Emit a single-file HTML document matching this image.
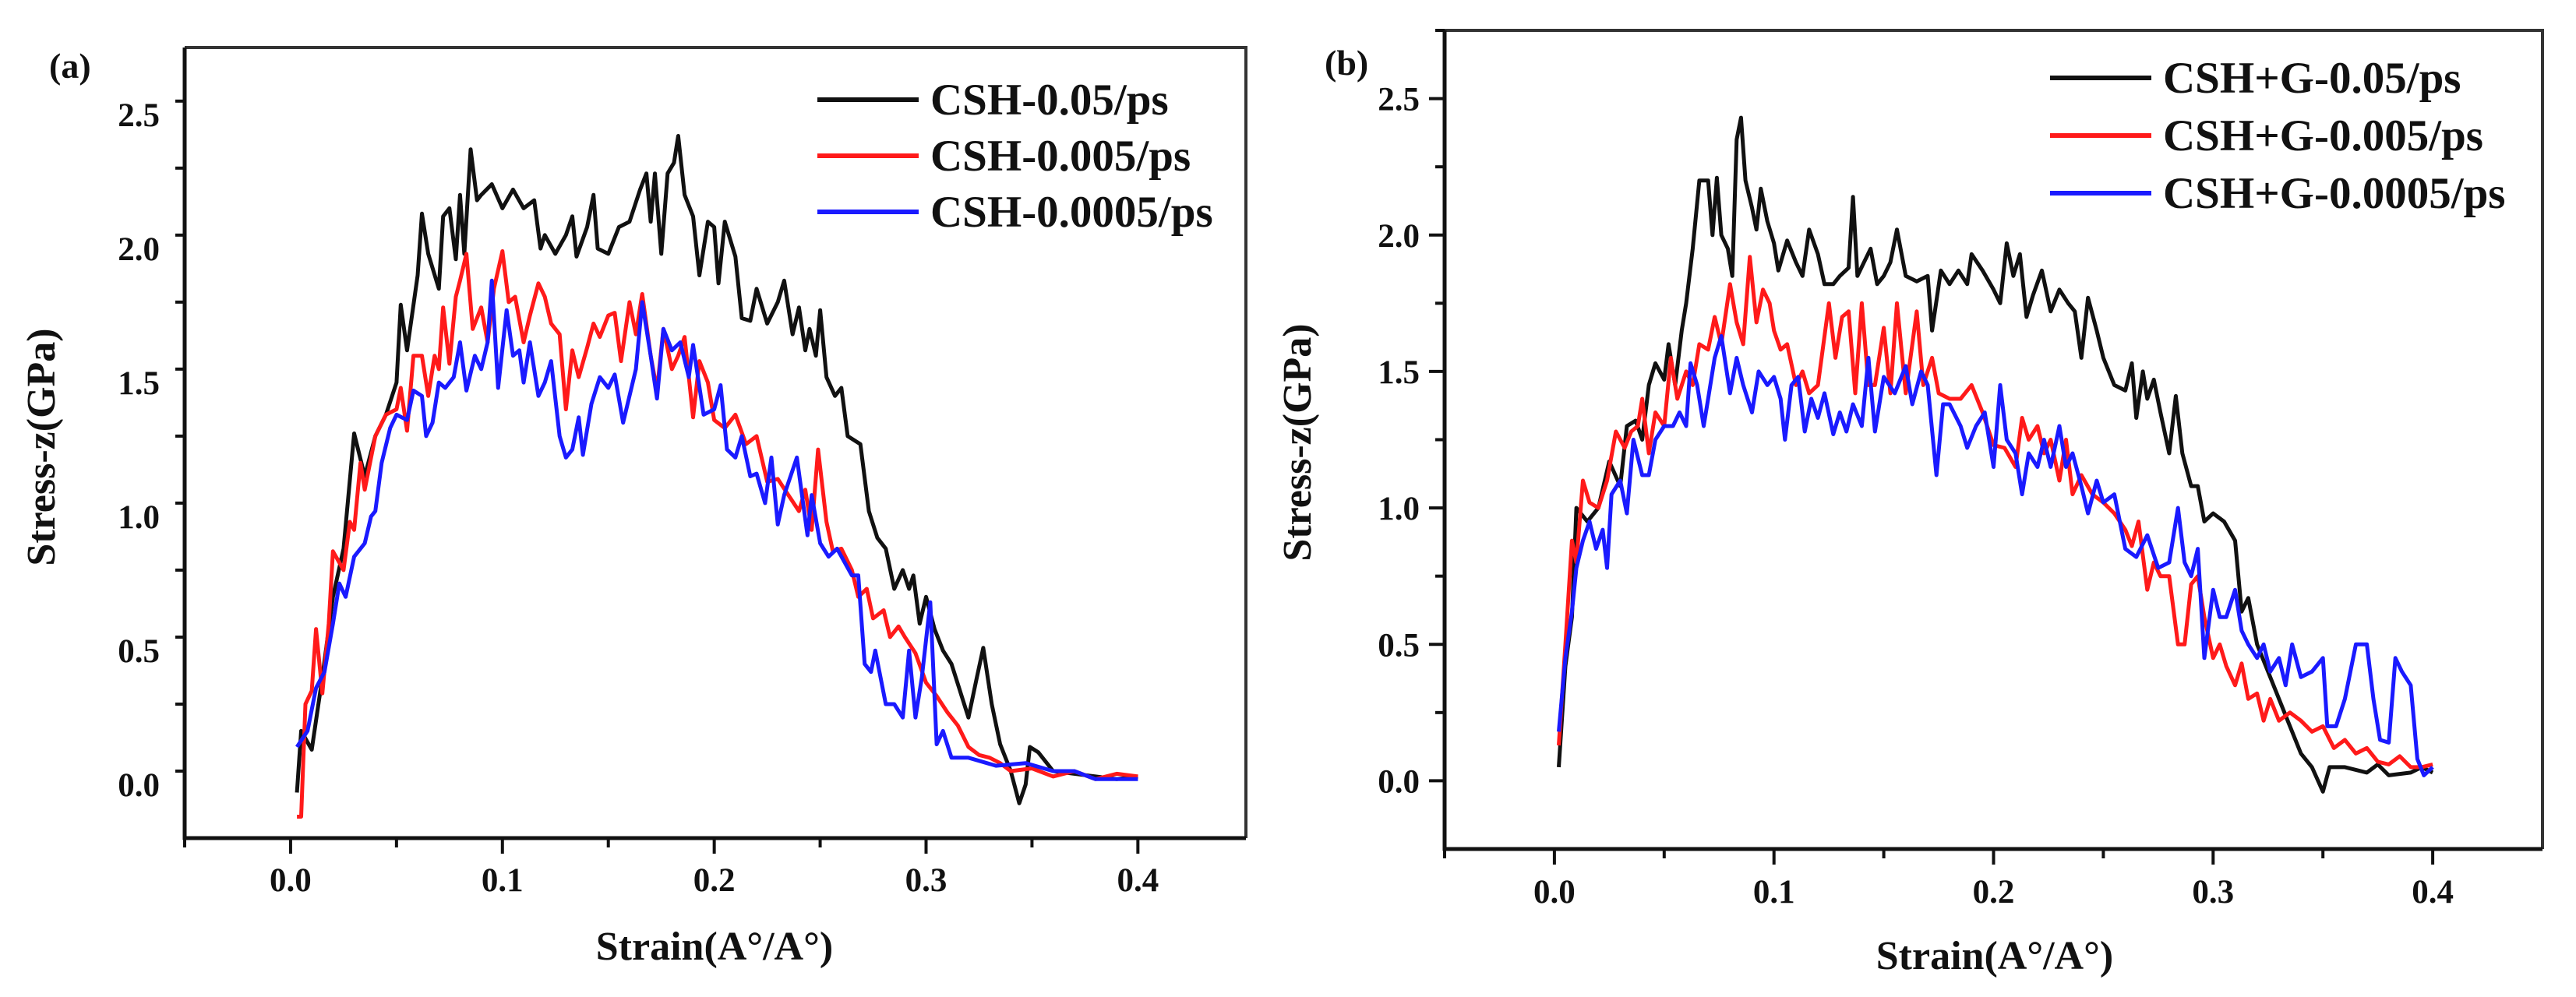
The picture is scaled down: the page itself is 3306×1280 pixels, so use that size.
<!DOCTYPE html>
<html><head><meta charset="utf-8"><style>
html,body{margin:0;padding:0;background:#fff;}
svg{display:block;font-family:"Liberation Serif",serif;font-weight:bold;}
</style></head><body>
<svg id="chart" xmlns="http://www.w3.org/2000/svg" width="3306" height="1280" viewBox="0 0 3306 1280"></svg>
<script>
// ---------- Panel (a) data ----------
const strainA_black = [0.003,0.005,0.01,0.015,0.02,0.025,0.03,0.035,0.04,0.045,0.05,0.052,0.055,0.06,0.062,0.065,0.07,0.072,0.075,0.078,0.08,0.082,0.085,0.088,0.09,0.095,0.1,0.105,0.11,0.115,0.118,0.12,0.125,0.13,0.133,0.135,0.14,0.143,0.145,0.15,0.155,0.16,0.165,0.168,0.17,0.172,0.175,0.178,0.181,0.183,0.186,0.19,0.193,0.197,0.2,0.202,0.205,0.21,0.213,0.217,0.22,0.225,0.23,0.233,0.237,0.24,0.243,0.245,0.248,0.25,0.253,0.257,0.26,0.263,0.269,0.273,0.277,0.281,0.285,0.289,0.292,0.294,0.297,0.3,0.304,0.308,0.312,0.316,0.32,0.324,0.327,0.331,0.335,0.34,0.344,0.347,0.349,0.353,0.36,0.37,0.38,0.39,0.4];
const stressA_black = [-0.03,0.2,0.13,0.4,0.7,0.88,1.31,1.15,1.3,1.38,1.5,1.79,1.62,1.9,2.13,1.98,1.85,2.12,2.15,1.96,2.2,1.98,2.37,2.18,2.2,2.24,2.15,2.22,2.15,2.18,2.0,2.05,1.98,2.05,2.12,1.97,2.08,2.2,2.0,1.98,2.08,2.1,2.22,2.28,2.1,2.28,1.98,2.28,2.32,2.42,2.2,2.12,1.9,2.1,2.08,1.87,2.1,1.97,1.74,1.73,1.85,1.72,1.8,1.88,1.68,1.78,1.62,1.7,1.6,1.77,1.52,1.45,1.48,1.3,1.27,1.02,0.92,0.88,0.73,0.8,0.73,0.78,0.6,0.7,0.58,0.5,0.45,0.35,0.25,0.4,0.51,0.3,0.15,0.05,-0.07,0.0,0.14,0.12,0.05,0.04,0.03,0.02,0.03];

const strainA_red = [0.003,0.005,0.007,0.01,0.012,0.015,0.018,0.02,0.025,0.028,0.03,0.033,0.035,0.04,0.045,0.05,0.052,0.055,0.058,0.062,0.065,0.068,0.07,0.072,0.075,0.078,0.08,0.083,0.086,0.09,0.093,0.096,0.1,0.103,0.106,0.11,0.113,0.117,0.12,0.123,0.127,0.13,0.133,0.136,0.14,0.143,0.146,0.15,0.153,0.156,0.16,0.163,0.166,0.17,0.173,0.176,0.18,0.183,0.186,0.19,0.193,0.197,0.2,0.205,0.21,0.215,0.22,0.225,0.23,0.235,0.24,0.243,0.246,0.249,0.253,0.256,0.26,0.265,0.268,0.272,0.275,0.28,0.283,0.287,0.29,0.295,0.3,0.305,0.31,0.315,0.32,0.325,0.33,0.335,0.34,0.35,0.36,0.37,0.38,0.39,0.4];
const stressA_red = [-0.12,-0.12,0.3,0.35,0.58,0.34,0.6,0.87,0.8,0.98,0.95,1.2,1.1,1.3,1.38,1.4,1.48,1.32,1.6,1.6,1.45,1.6,1.55,1.78,1.57,1.82,1.88,1.98,1.7,1.78,1.65,1.85,1.99,1.8,1.82,1.65,1.75,1.87,1.82,1.72,1.68,1.4,1.62,1.52,1.63,1.72,1.67,1.75,1.76,1.58,1.8,1.68,1.83,1.6,1.47,1.7,1.55,1.6,1.67,1.37,1.58,1.5,1.36,1.33,1.38,1.27,1.3,1.13,1.14,1.08,1.02,1.1,0.95,1.25,0.98,0.87,0.88,0.8,0.7,0.73,0.62,0.65,0.55,0.59,0.55,0.49,0.38,0.33,0.27,0.22,0.14,0.11,0.1,0.08,0.05,0.06,0.03,0.05,0.02,0.04,0.03];

const strainA_blue = [0.003,0.008,0.012,0.016,0.02,0.023,0.026,0.03,0.035,0.038,0.04,0.043,0.047,0.05,0.055,0.058,0.062,0.064,0.067,0.07,0.073,0.077,0.08,0.083,0.087,0.09,0.093,0.095,0.098,0.102,0.105,0.108,0.11,0.113,0.117,0.12,0.123,0.127,0.13,0.133,0.136,0.138,0.142,0.146,0.15,0.153,0.157,0.16,0.163,0.166,0.17,0.173,0.176,0.18,0.184,0.188,0.19,0.195,0.2,0.203,0.206,0.21,0.213,0.217,0.22,0.224,0.227,0.23,0.233,0.239,0.244,0.246,0.25,0.254,0.258,0.265,0.268,0.271,0.274,0.276,0.281,0.285,0.289,0.292,0.295,0.298,0.302,0.305,0.308,0.312,0.32,0.333,0.347,0.36,0.37,0.38,0.39,0.4];
const stressA_blue = [0.14,0.2,0.36,0.42,0.6,0.75,0.7,0.85,0.9,1.0,1.02,1.2,1.33,1.38,1.36,1.47,1.45,1.3,1.35,1.5,1.48,1.52,1.65,1.47,1.6,1.55,1.65,1.88,1.48,1.77,1.6,1.62,1.5,1.65,1.45,1.5,1.58,1.3,1.22,1.25,1.37,1.23,1.42,1.52,1.48,1.53,1.35,1.45,1.55,1.8,1.6,1.44,1.7,1.62,1.65,1.52,1.64,1.38,1.4,1.49,1.25,1.22,1.3,1.15,1.16,1.05,1.22,0.97,1.08,1.22,0.93,1.08,0.9,0.85,0.88,0.78,0.78,0.45,0.42,0.5,0.3,0.3,0.25,0.5,0.25,0.4,0.68,0.15,0.2,0.1,0.1,0.07,0.08,0.05,0.05,0.02,0.02,0.02];

// ---------- Panel (b) data ----------
const strainB_black = [0.002,0.005,0.008,0.01,0.015,0.02,0.025,0.03,0.033,0.037,0.04,0.043,0.046,0.05,0.052,0.055,0.058,0.06,0.063,0.066,0.07,0.072,0.074,0.076,0.079,0.081,0.083,0.085,0.087,0.09,0.092,0.094,0.097,0.1,0.102,0.106,0.11,0.113,0.116,0.12,0.123,0.127,0.13,0.134,0.136,0.138,0.141,0.144,0.147,0.15,0.153,0.156,0.16,0.165,0.17,0.172,0.176,0.18,0.184,0.188,0.19,0.195,0.2,0.203,0.206,0.209,0.212,0.215,0.218,0.222,0.226,0.23,0.234,0.237,0.24,0.243,0.247,0.25,0.255,0.26,0.263,0.265,0.268,0.27,0.273,0.276,0.28,0.283,0.286,0.29,0.293,0.296,0.3,0.305,0.31,0.313,0.316,0.32,0.325,0.33,0.335,0.34,0.345,0.35,0.353,0.36,0.37,0.375,0.38,0.39,0.395,0.4];
const stressB_black = [0.05,0.42,0.6,1.0,0.95,1.0,1.17,1.08,1.3,1.32,1.25,1.45,1.53,1.47,1.6,1.45,1.65,1.75,1.95,2.2,2.2,2.0,2.21,2.0,1.95,1.85,2.35,2.43,2.2,2.1,2.02,2.17,2.05,1.97,1.87,1.98,1.9,1.85,2.02,1.93,1.82,1.82,1.85,1.88,2.14,1.85,1.9,1.95,1.82,1.85,1.9,2.02,1.85,1.83,1.85,1.65,1.87,1.82,1.87,1.82,1.93,1.87,1.8,1.75,1.97,1.85,1.93,1.7,1.78,1.87,1.72,1.8,1.75,1.72,1.55,1.77,1.65,1.55,1.45,1.43,1.53,1.33,1.5,1.4,1.47,1.35,1.2,1.41,1.2,1.08,1.08,0.95,0.98,0.95,0.88,0.62,0.67,0.5,0.4,0.3,0.2,0.1,0.05,-0.04,0.05,0.05,0.03,0.06,0.02,0.03,0.05,0.03];

const strainB_red = [0.002,0.005,0.008,0.01,0.013,0.016,0.02,0.024,0.028,0.032,0.035,0.038,0.04,0.043,0.046,0.05,0.053,0.056,0.06,0.063,0.066,0.07,0.073,0.076,0.08,0.083,0.086,0.089,0.092,0.095,0.098,0.1,0.103,0.106,0.11,0.113,0.116,0.12,0.125,0.128,0.131,0.134,0.137,0.14,0.143,0.146,0.15,0.153,0.156,0.16,0.165,0.168,0.172,0.175,0.18,0.185,0.19,0.195,0.2,0.205,0.21,0.213,0.216,0.22,0.223,0.226,0.23,0.233,0.236,0.24,0.245,0.25,0.255,0.26,0.263,0.266,0.27,0.273,0.276,0.28,0.284,0.287,0.29,0.293,0.296,0.3,0.303,0.306,0.31,0.313,0.316,0.32,0.323,0.326,0.33,0.335,0.34,0.345,0.35,0.355,0.36,0.365,0.37,0.375,0.38,0.385,0.39,0.395,0.4];
const stressB_red = [0.13,0.5,0.88,0.8,1.1,1.02,1.0,1.1,1.28,1.22,1.28,1.3,1.4,1.2,1.35,1.3,1.55,1.4,1.5,1.45,1.6,1.58,1.7,1.6,1.82,1.68,1.6,1.92,1.68,1.8,1.75,1.65,1.58,1.6,1.45,1.5,1.42,1.45,1.75,1.55,1.7,1.72,1.42,1.75,1.45,1.45,1.66,1.42,1.75,1.42,1.72,1.45,1.55,1.42,1.4,1.4,1.45,1.35,1.23,1.22,1.15,1.33,1.25,1.3,1.2,1.25,1.1,1.25,1.05,1.12,1.05,1.02,0.98,0.92,0.86,0.95,0.7,0.8,0.75,0.75,0.5,0.5,0.72,0.75,0.6,0.45,0.5,0.42,0.35,0.43,0.3,0.32,0.22,0.3,0.22,0.25,0.22,0.18,0.2,0.12,0.15,0.1,0.12,0.07,0.06,0.09,0.05,0.05,0.06];

const strainB_blue = [0.002,0.005,0.008,0.01,0.013,0.016,0.019,0.022,0.024,0.026,0.03,0.033,0.036,0.04,0.043,0.046,0.05,0.054,0.057,0.06,0.062,0.065,0.068,0.07,0.073,0.076,0.08,0.083,0.086,0.09,0.093,0.097,0.1,0.103,0.105,0.108,0.111,0.114,0.117,0.12,0.123,0.127,0.13,0.133,0.136,0.14,0.143,0.146,0.15,0.155,0.16,0.163,0.167,0.17,0.174,0.177,0.18,0.185,0.188,0.192,0.196,0.2,0.203,0.206,0.21,0.213,0.216,0.22,0.223,0.226,0.23,0.233,0.236,0.24,0.243,0.247,0.25,0.255,0.26,0.265,0.27,0.275,0.28,0.284,0.287,0.29,0.293,0.296,0.3,0.303,0.306,0.31,0.313,0.316,0.32,0.323,0.326,0.33,0.333,0.336,0.34,0.345,0.35,0.352,0.356,0.36,0.365,0.37,0.373,0.376,0.38,0.383,0.386,0.39,0.393,0.396,0.4];
const stressB_blue = [0.18,0.45,0.62,0.78,0.88,0.95,0.85,0.92,0.78,1.05,1.1,0.98,1.25,1.12,1.12,1.25,1.3,1.3,1.35,1.3,1.53,1.45,1.3,1.4,1.55,1.63,1.42,1.55,1.45,1.35,1.5,1.45,1.48,1.4,1.25,1.45,1.48,1.28,1.4,1.33,1.42,1.27,1.35,1.28,1.38,1.3,1.55,1.28,1.48,1.42,1.52,1.38,1.5,1.45,1.12,1.38,1.38,1.3,1.22,1.3,1.35,1.15,1.45,1.25,1.2,1.05,1.2,1.15,1.25,1.15,1.3,1.15,1.2,1.08,0.98,1.1,1.02,1.05,0.85,0.82,0.9,0.78,0.8,1.0,0.8,0.75,0.85,0.45,0.7,0.6,0.6,0.7,0.55,0.5,0.45,0.5,0.4,0.45,0.35,0.5,0.38,0.4,0.45,0.2,0.2,0.3,0.5,0.5,0.3,0.15,0.14,0.45,0.4,0.35,0.08,0.02,0.05];

const xTickLabels = ["0.0","0.1","0.2","0.3","0.4"];
const yTickLabels = ["0.0","0.5","1.0","1.5","2.0","2.5"];
const legendA = ["CSH-0.05/ps","CSH-0.005/ps","CSH-0.0005/ps"];
const legendB = ["CSH+G-0.05/ps","CSH+G-0.005/ps","CSH+G-0.0005/ps"];

const NS = "http://www.w3.org/2000/svg";
const svg = document.getElementById("chart");
function mk(tag, attrs, parent){
  const e = document.createElementNS(NS, tag);
  for (const k in attrs) e.setAttribute(k, attrs[k]);
  (parent||svg).appendChild(e);
  return e;
}

function panel(cfg){
  const g = mk("g", {});
  
  
  const L=cfg.left,R=cfg.right,T=cfg.top,B=cfg.bottom;
  const xs = v => L + (v - cfg.xmin)/(cfg.xmax-cfg.xmin)*(R-L);
  const ys = v => B - (v - cfg.ymin)/(cfg.ymax-cfg.ymin)*(B-T);
  const fr = mk("path",{d:`M${L} ${T}H${R}V${B}`,fill:"none",stroke:"#333","stroke-width":4},g);
  
  
  const ax = mk("path",{d:`M${L} ${T}V${B}H${R}`,fill:"none",stroke:"#111","stroke-width":5},g);
  
  
  for (let i=0;i<=9;i++){
    const v=-0.05+i*0.05; const x=xs(v);
    const major = Math.abs(Math.round(v*10)-v*10)<1e-6;
    const t=mk("line",{x1:x,y1:B,x2:x,y2:B+(major?20:12),stroke:"#111","stroke-width":4},g);
    
    
  }
  xTickLabels.forEach((s,i)=>{
    const t=mk("text",{x:xs(i*0.1),y:B+cfg.xLabelOff,"font-size":43,"text-anchor":"middle",fill:"#111"},g);
    t.textContent=s;
    
    
  });
  for (let v=cfg.ymin; v<=2.75+1e-6; v+=0.25){
    const y=ys(v);
    if (y<T-1 || y>B-2) continue;
    const major = Math.abs(v*2-Math.round(v*2))<1e-6;
    const t=mk("line",{x1:L,y1:y,x2:L-(major?20:12),y2:y,stroke:"#111","stroke-width":4},g);
    
    
  }
  yTickLabels.forEach((s,i)=>{
    const t=mk("text",{x:L-32,y:ys(i*0.5)+15,"font-size":43,"text-anchor":"end",fill:"#111"},g);
    t.textContent=s;
    
    
  });
  const yt=mk("text",{x:0,y:0,"font-size":52,"text-anchor":"middle",fill:"#111",
    transform:`translate(${cfg.yTitleX},${cfg.yTitleY}) rotate(-90)`},g);
  yt.textContent="Stress-z(GPa)";
  
  
  const xt=mk("text",{x:cfg.xTitleX,y:cfg.xTitleY,"font-size":52,"text-anchor":"middle",fill:"#111"},g);
  xt.textContent="Strain(A°/A°)";
  
  
  const pl=mk("text",{x:cfg.labelX,y:cfg.labelY,"font-size":46,fill:"#111"},g);
  pl.textContent=cfg.label;
  
  
  const colors=["#111","#ff1a1a","#1a1aff"];
  const sNames=["series-black","series-red","series-blue"];
  cfg.series.forEach((s,k)=>{
    const d=s[0].map((x,i)=>(i?"L":"M")+xs(x).toFixed(1)+" "+ys(s[1][i]).toFixed(1)).join("");
    const p=mk("path",{d:d,fill:"none",stroke:colors[k],"stroke-width":5,"stroke-linejoin":"round"},g);
    
    
  });
  cfg.legend.forEach((s,k)=>{
    const y=cfg.legY+k*cfg.legStep;
    const ln=mk("line",{x1:cfg.legX,y1:y,x2:cfg.legX+130,y2:y,stroke:colors[k],"stroke-width":6},g);
    
    
    const t=mk("text",{x:cfg.legX+145,y:y+19,"font-size":57,fill:"#111"},g);
    t.textContent=s;
    
    
  });
}

panel({name:"panel-a",left:237,right:1599,top:61,bottom:1076,xmin:-0.05,xmax:0.451,ymin:-0.2,ymax:2.75,
  xLabelOff:68,yTitleX:70,yTitleY:574,xTitleX:917,xTitleY:1232,label:"(a)",labelX:63,labelY:100,
  legX:1049,legY:128,legStep:72,legend:legendA,
  series:[[strainA_black,stressA_black],[strainA_red,stressA_red],[strainA_blue,stressA_blue]]});
panel({name:"panel-b",left:1854,right:3263,top:39,bottom:1090,xmin:-0.05,xmax:0.45,ymin:-0.25,ymax:2.75,
  xLabelOff:69,yTitleX:1682,yTitleY:568,xTitleX:2560,xTitleY:1244,label:"(b)",labelX:1700,labelY:96,
  legX:2631,legY:100,legStep:74,legend:legendB,
  series:[[strainB_black,stressB_black],[strainB_red,stressB_red],[strainB_blue,stressB_blue]]});
</script>
</body></html>
